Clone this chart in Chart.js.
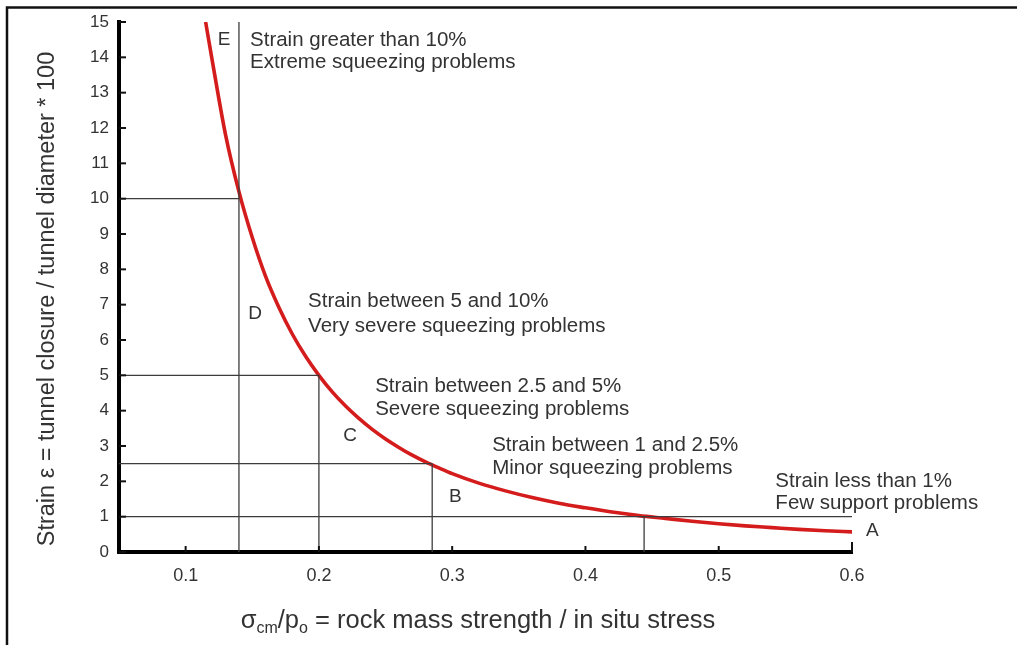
<!DOCTYPE html>
<html>
<head>
<meta charset="utf-8">
<title>Tunnel strain vs rock mass strength</title>
<script src="https://cdn.jsdelivr.net/npm/chart.js@4.4.1/dist/chart.umd.min.js"></script>
<style>
  html, body { margin: 0; padding: 0; background: #fff; }
  #wrap { position: relative; width: 1017px; height: 645px; }
  canvas { display: block; }
</style>
</head>
<body>
<div id="wrap"><canvas id="chart" width="1017" height="645"></canvas></div>
<script>
// Squeezing curve: strain (%) against sigma_cm / p_o
const ratio  = [0.115, 0.12, 0.13, 0.14, 0.15, 0.16, 0.17, 0.18, 0.19, 0.20, 0.21, 0.22, 0.23, 0.24, 0.25, 0.26, 0.27, 0.28, 0.29, 0.30, 0.32, 0.34, 0.36, 0.38, 0.40, 0.42, 0.44, 0.46, 0.48, 0.50, 0.52, 0.54, 0.56, 0.58, 0.60];
const strain = [15.0, 13.9, 11.8, 10.2, 8.9, 7.8, 6.92, 6.17, 5.54, 5.0, 4.53, 4.13, 3.78, 3.47, 3.2, 2.96, 2.74, 2.55, 2.38, 2.22, 1.95, 1.73, 1.54, 1.38, 1.25, 1.13, 1.03, 0.95, 0.87, 0.80, 0.74, 0.69, 0.64, 0.60, 0.57];

// Class boundaries: strain level, where the curve crosses it, and how far the horizontal rule runs
const boundaryStrain = [10, 5, 2.5, 1];
const boundaryRatio  = [0.14, 0.20, 0.285, 0.444];
const boundaryRuleEnd = [0.14, 0.20, 0.285, 0.60];
const boundaryTop    = [15, 5, 2.5, 1];

// Axis ticks
const xTicks = [0.1, 0.2, 0.3, 0.4, 0.5, 0.6];
const yTicks = [0, 1, 2, 3, 4, 5, 6, 7, 8, 9, 10, 11, 12, 13, 14, 15];

// Class letters and their descriptions
const classLetters = ['E', 'D', 'C', 'B', 'A'];
const classLines = [
  ['Strain greater than 10%', 'Extreme squeezing problems'],
  ['Strain between 5 and 10%', 'Very severe squeezing problems'],
  ['Strain between 2.5 and 5%', 'Severe squeezing problems'],
  ['Strain between 1 and 2.5%', 'Minor squeezing problems'],
  ['Strain less than 1%', 'Few support problems']
];

// Where each label sits, in data units
const letterAt = [[0.1288, 14.49], [0.1521, 6.74], [0.2234, 3.28], [0.3023, 1.56], [0.6153, 0.59]];
const textAt = [
  [0.1483, 14.49, 13.87],
  [0.1919, 7.08, 6.40],
  [0.2422, 4.70, 4.05],
  [0.3300, 3.03, 2.38],
  [0.5425, 2.01, 1.39]
];

const FONT = '"Liberation Sans", Arial, Helvetica, sans-serif';
const TEXT_COLOR = '#333';
const RULE_COLOR = '#3c3c3c';

const datasets = [];
// horizontal rules
boundaryStrain.forEach((s, i) => {
  datasets.push({
    data: [{ x: 0.05, y: s }, { x: boundaryRuleEnd[i], y: s }],
    borderColor: RULE_COLOR, borderWidth: 1.3, pointRadius: 0, showLine: true, tension: 0
  });
});
// vertical rules
boundaryRatio.forEach((r, i) => {
  datasets.push({
    data: [{ x: r, y: 0 }, { x: r, y: boundaryTop[i] }],
    borderColor: RULE_COLOR, borderWidth: 1.3, pointRadius: 0, showLine: true, tension: 0
  });
});
// the curve
datasets.push({
  data: ratio.map((r, i) => ({ x: r, y: strain[i] })),
  borderColor: '#d41c1c', borderWidth: 3.6, pointRadius: 0, showLine: true,
  cubicInterpolationMode: 'monotone'
});

const decorations = {
  id: 'decorations',
  afterDraw(chart) {
    const { ctx, chartArea: ca, scales: { x, y } } = chart;
    ctx.save();

    // outer frame (top and left edges)
    ctx.strokeStyle = '#111';
    ctx.lineWidth = 2.5;
    ctx.beginPath();
    ctx.moveTo(7, 645); ctx.lineTo(7, 7.5); ctx.lineTo(1017, 7.5);
    ctx.stroke();

    // small tick stubs inside the axes
    ctx.strokeStyle = '#111';
    ctx.lineWidth = 2;
    yTicks.forEach(v => {
      const py = y.getPixelForValue(v);
      ctx.beginPath(); ctx.moveTo(ca.left, py); ctx.lineTo(ca.left + 7, py); ctx.stroke();
    });
    xTicks.forEach(v => {
      const px = x.getPixelForValue(v);
      const len = v === 0.6 ? 10 : 6;
      ctx.beginPath(); ctx.moveTo(px, ca.bottom); ctx.lineTo(px, ca.bottom - len); ctx.stroke();
    });

    // class letters
    ctx.fillStyle = TEXT_COLOR;
    ctx.font = '19px ' + FONT;
    ctx.textAlign = 'center';
    ctx.textBaseline = 'middle';
    classLetters.forEach((l, i) => {
      ctx.fillText(l, x.getPixelForValue(letterAt[i][0]), y.getPixelForValue(letterAt[i][1]));
    });

    // class descriptions
    ctx.font = '20.5px ' + FONT;
    ctx.textAlign = 'left';
    classLines.forEach((lines, i) => {
      const px = x.getPixelForValue(textAt[i][0]);
      ctx.fillText(lines[0], px, y.getPixelForValue(textAt[i][1]));
      ctx.fillText(lines[1], px, y.getPixelForValue(textAt[i][2]));
    });

    // y axis title
    ctx.save();
    ctx.translate(48, 299);
    ctx.rotate(-Math.PI / 2);
    ctx.font = '23.5px ' + FONT;
    ctx.textAlign = 'center';
    ctx.fillStyle = TEXT_COLOR;
    ctx.fillText('Strain \u03B5 = tunnel closure / tunnel diameter * 100', 0, 0);
    ctx.restore();

    // x axis title with subscripts
    const parts = [
      { t: '\u03C3', sub: false },
      { t: 'cm', sub: true },
      { t: '/p', sub: false },
      { t: 'o', sub: true },
      { t: ' = rock mass strength / in situ stress', sub: false }
    ];
    const big = '25.5px ' + FONT, small = '16px ' + FONT;
    let total = 0;
    parts.forEach(p => { ctx.font = p.sub ? small : big; p.w = ctx.measureText(p.t).width; total += p.w; });
    let cx = 478 - total / 2;
    const baseY = 628;
    ctx.textAlign = 'left';
    ctx.textBaseline = 'alphabetic';
    parts.forEach(p => {
      ctx.font = p.sub ? small : big;
      ctx.fillText(p.t, cx, p.sub ? baseY + 5 : baseY);
      cx += p.w;
    });

    ctx.restore();
  }
};

new Chart(document.getElementById('chart'), {
  type: 'scatter',
  data: { datasets },
  options: {
    responsive: false,
    animation: false,
    layout: { padding: { left: 0, top: 22, right: 165, bottom: 0 } },
    plugins: { legend: { display: false }, tooltip: { enabled: false } },
    scales: {
      x: {
        type: 'linear', min: 0.05, max: 0.6,
        afterBuildTicks: s => { s.ticks = xTicks.map(v => ({ value: v })); },
        afterFit: s => { s.height = 93; },
        grid: { display: false, drawTicks: false },
        border: { display: true, color: '#000', width: 4 },
        ticks: {
          padding: 13, color: '#333',
          font: { family: FONT, size: 18 },
          callback: v => v.toFixed(1)
        }
      },
      y: {
        type: 'linear', min: 0, max: 15,
        afterBuildTicks: s => { s.ticks = yTicks.map(v => ({ value: v })); },
        afterFit: s => { s.width = 119; },
        grid: { display: false, drawTicks: false },
        border: { display: true, color: '#000', width: 4 },
        ticks: {
          padding: 10, color: '#333',
          font: { family: FONT, size: 17 },
          callback: v => String(v)
        }
      }
    }
  },
  plugins: [decorations]
});
</script>
</body>
</html>
